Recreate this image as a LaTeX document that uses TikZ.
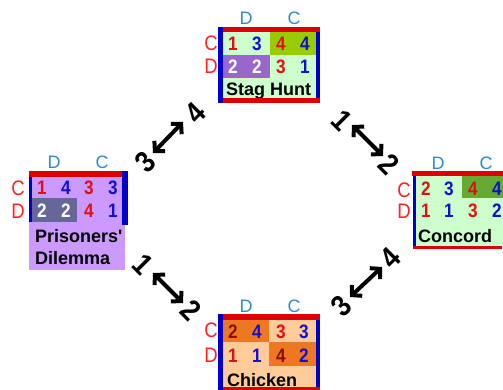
\documentclass[tikz,border=0pt]{standalone}
\usepackage{fontspec}
\setmainfont{Liberation Sans}[Ligatures=TeXOff]
\newfontfamily\narrowfont{Liberation Sans}[FakeStretch=0.88, Ligatures=TeXOff]
\usetikzlibrary{arrows.meta}
\definecolor{bggreen}{HTML}{CCFFCC}
\definecolor{olivec}{HTML}{99CC00}
\definecolor{purplec}{HTML}{9966CC}
\definecolor{lavc}{HTML}{CC99FF}
\definecolor{grayc}{HTML}{666699}
\definecolor{oliveb}{HTML}{66AA33}
\definecolor{peachc}{HTML}{FFCC99}
\definecolor{orangec}{HTML}{EE7722}
\definecolor{numred}{HTML}{DD1111}
\definecolor{numblue}{HTML}{1111CC}
\definecolor{darkredc}{HTML}{881100}
\definecolor{labred}{HTML}{FF2222}
\definecolor{labblue}{HTML}{2F88D0}
\definecolor{barred}{HTML}{DD0000}
\definecolor{barblue}{HTML}{0000CC}
\begin{document}
\begin{tikzpicture}[x=1pt,y=-1pt,
  num/.style={font=\narrowfont\fontsize{19.5}{19.5}\selectfont\bfseries, inner sep=0pt},
  rn/.style={num, text=numred},
  cn/.style={num, text=numblue},
  wn/.style={num, text=white},
  dn/.style={num, text=darkredc},
  collab/.style={font=\fontsize{18}{18}\selectfont, text=labblue, inner sep=0pt},
  rowlab/.style={font=\narrowfont\fontsize{21}{21}\selectfont, text=labred, inner sep=0pt},
  gname/.style={font=\fontsize{18}{20}\selectfont\bfseries, inner sep=0pt, anchor=base west},
  alab/.style={font=\narrowfont\fontsize{30}{30}\selectfont\bfseries, inner sep=0pt},
  dbl/.style={line width=4pt, {Straight Barb[length=7pt,width=15pt]}-{Straight Barb[length=7pt,width=15pt]}}]
\useasboundingbox (0,0) rectangle (503,390);
\clip (0,0) rectangle (503,390);

% ---------- Stag Hunt ----------
\fill[bggreen] (223,32) rectangle (317,98);
\fill[olivec] (270,32) rectangle (317,55);
\fill[purplec] (223,55) rectangle (270,78);
\node[rn] (s11a) at (233,44) {1};
\node[cn] (s11b) at (257,44) {3};
\node[rn] (s12a) at (281,44) {4};
\node[cn] (s12b) at (305,44) {4};
\node[wn] (s21a) at (233,67) {2};
\node[wn] (s21b) at (257,67) {2};
\node[rn] (s22a) at (281,67) {3};
\node[cn] (s22b) at (305,67) {1};
\node[collab] (scd) at (246,18) {D};
\node[collab] (scc) at (294,18) {C};
\node[rowlab] (src) at (211,43) {C};
\node[rowlab] (srd) at (211,66) {D};
\node[gname] (sname) at (226,96) {Stag Hunt};
\fill[barblue] (316,27) rectangle (320,98);
\fill[barred] (218,27) rectangle (320,32);
\fill[barblue] (218,27) rectangle (223,103);
\fill[barred] (223,98) rectangle (320,103);

% ---------- Prisoners' Dilemma ----------
\fill[lavc] (29,177) rectangle (125,270);
\fill[grayc] (32,198) rectangle (77,222);
\node[rn] (p11a) at (42,188) {1};
\node[cn] (p11b) at (66,188) {4};
\node[rn] (p12a) at (89,188) {3};
\node[cn] (p12b) at (113,188) {3};
\node[wn] (p21a) at (42,211) {2};
\node[wn] (p21b) at (66,211) {2};
\node[rn] (p22a) at (89,211) {4};
\node[cn] (p22b) at (113,211) {1};
\node[collab] (pcd) at (54,162) {D};
\node[collab] (pcc) at (102,162) {C};
\node[rowlab] (prc) at (18,188) {C};
\node[rowlab] (prd) at (18,211) {D};
\node[gname] (pname1) at (35,242) {Prisoners'};
\node[gname] (pname2) at (35,264) {Dilemma};
\fill[barred] (29,171) rectangle (123,177);
\fill[barblue] (122,171) rectangle (128,225);
\fill[barblue] (29,177) rectangle (32,222);

% ---------- Concord ----------
\fill[bggreen] (416,176) rectangle (503,246);
\fill[oliveb] (462,176) rectangle (503,198);
\node[rn] (c11a) at (426,189) {2};
\node[cn] (c11b) at (449,189) {3};
\node[rn] (c12a) at (473,189) {4};
\node[cn] (c12b) at (497,189) {4};
\node[rn] (c21a) at (426,211) {1};
\node[cn] (c21b) at (449,211) {1};
\node[rn] (c22a) at (473,211) {3};
\node[cn] (c22b) at (497,211) {2};
\node[collab] (ccd) at (438,163) {D};
\node[collab] (ccc) at (486,163) {C};
\node[rowlab] (crc) at (404,190) {C};
\node[rowlab] (crd) at (404,211) {D};
\node[gname] (cname) at (418,242) {Concord};
\fill[barred] (412,171) rectangle (503,176);
\fill[barblue] (413,176) rectangle (416,249);
\fill[barred] (413,246) rectangle (502,249);

% ---------- Chicken ----------
\fill[peachc] (223,320) rectangle (317,387);
\fill[orangec] (223,320) rectangle (269,342);
\fill[orangec] (269,342) rectangle (317,366);
\node[dn] (k11a) at (233,332) {2};
\node[cn] (k11b) at (257,332) {4};
\node[rn] (k12a) at (281,332) {3};
\node[cn] (k12b) at (304,332) {3};
\node[rn] (k21a) at (233,356) {1};
\node[cn] (k21b) at (257,356) {1};
\node[dn] (k22a) at (281,356) {4};
\node[cn] (k22b) at (304,356) {2};
\node[collab] (kcd) at (246,306) {D};
\node[collab] (kcc) at (294,306) {C};
\node[rowlab] (krc) at (211,330) {C};
\node[rowlab] (krd) at (211,355) {D};
\node[gname] (kname) at (227,386) {Chicken};
\fill[barblue] (316,314) rectangle (320,388);
\fill[barred] (223,314) rectangle (320,320);
\fill[barblue] (218,314) rectangle (223,390);
\fill[barred] (223,387) rectangle (320,390);

% ---------- transition arrows ----------
\coordinate (a1s) at (153,153); \coordinate (a1e) at (183,122);
\coordinate (a2s) at (352,125); \coordinate (a2e) at (383,156);
\coordinate (a3s) at (153,273); \coordinate (a3e) at (183,303);
\coordinate (a4s) at (350,297); \coordinate (a4e) at (382,267);
\draw[dbl] (a1s) -- (a1e);
\draw[dbl] (a2s) -- (a2e);
\draw[dbl] (a3s) -- (a3e);
\draw[dbl] (a4s) -- (a4e);
\node[alab, rotate=45] (l1a) at (145,162) {3};
\node[alab, rotate=45] (l1b) at (195,113) {4};
\node[alab, rotate=-45] (l2a) at (342,120) {1};
\node[alab, rotate=-45] (l2b) at (389,164) {2};
\node[alab, rotate=-45] (l3a) at (143,264) {1};
\node[alab, rotate=-45] (l3b) at (191,310) {2};
\node[alab, rotate=45] (l4a) at (341,306) {3};
\node[alab, rotate=45] (l4b) at (390,258) {4};
\end{tikzpicture}
\end{document}
